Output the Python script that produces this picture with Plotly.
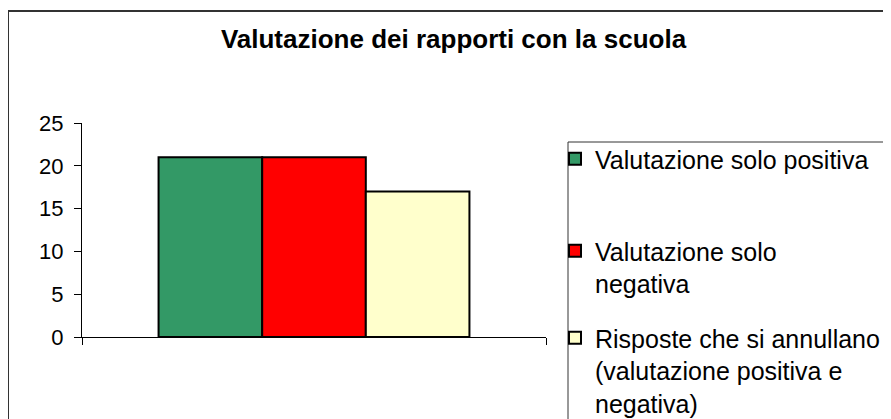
import plotly.graph_objects as go

# ---- data ----
category = ["Valutazione dei rapporti con la scuola"]
series_names = [
    "Valutazione solo positiva",
    "Valutazione solo<br>negativa",
    "Risposte che si annullano<br>(valutazione positiva e<br>negativa)",
]
series_values = [[21], [21], [17]]
series_colors = ["#339966", "#FF0000", "#FFFFCC"]
y_ticks = [0, 5, 10, 15, 20, 25]

# ---- layout geometry (reference-screen pixels) ----
OFF = 8  # default page body margin
W, H = 891 - OFF, 419 - OFF
PLOT_L, PLOT_R, PLOT_T, PLOT_B = 82, 546, 123, 337
ML = PLOT_L - OFF
MT = PLOT_T - OFF
PW = PLOT_R - PLOT_L
PH = PLOT_B - PLOT_T
MR = W - ML - PW
MB = H - MT - PH


def px_x(px):
    return (px - PLOT_L) / PW


def px_y(py):
    return (PLOT_B - py) / PH


FONT = "Liberation Sans, Arial, sans-serif"
LEG_FONT = 25
legend_ids = ["legend", "legend2", "legend3"]
legend_tops = [136, 228, 315]

fig = go.Figure()
for name, vals, col, lid in zip(series_names, series_values, series_colors, legend_ids):
    fig.add_trace(
        go.Bar(
            x=category,
            y=vals,
            name=name,
            marker=dict(color=col, line=dict(color="#000000", width=2)),
            legend=lid,
        )
    )

legend_common = dict(
    xanchor="left",
    yanchor="top",
    bgcolor="rgba(0,0,0,0)",
    borderwidth=0,
    font=dict(family=FONT, size=LEG_FONT, color="#000000"),
    valign="top",
)

layout_legends = {}
for lid, top in zip(legend_ids, legend_tops):
    layout_legends[lid] = dict(x=px_x(555), y=px_y(top), **legend_common)

fig.update_layout(
    width=W,
    height=H,
    autosize=False,
    margin=dict(l=ML, r=MR, t=MT, b=MB, pad=0, autoexpand=False),
    paper_bgcolor="white",
    plot_bgcolor="white",
    barmode="group",
    bargap=0.33,
    bargroupgap=0,
    font=dict(family=FONT, color="#000000", size=22),
    title=dict(
        text="<b>Valutazione dei rapporti con la scuola</b>",
        font=dict(family=FONT, size=26, color="#000000"),
        x=(453.5 - OFF) / W,
        xanchor="center",
        xref="container",
        y=1 - (39 - OFF) / H,
        yanchor="middle",
        yref="container",
    ),
    showlegend=True,
    xaxis=dict(
        showticklabels=False,
        showline=True,
        linecolor="#000000",
        linewidth=1,
        ticks="outside",
        tickson="boundaries",
        ticklen=7,
        tickcolor="#000000",
        showgrid=False,
        zeroline=False,
        automargin=False,
    ),
    yaxis=dict(
        range=[0, 25],
        tickvals=y_ticks,
        ticktext=[str(v) for v in y_ticks],
        showline=True,
        linecolor="#000000",
        linewidth=1,
        ticks="outside",
        ticklen=7,
        tickcolor="#000000",
        showgrid=False,
        zeroline=False,
        automargin=False,
        tickfont=dict(family=FONT, size=22, color="#000000"),
        ticklabelstandoff=6,
    ),
    shapes=[
        dict(
            type="rect",
            xref="paper",
            yref="paper",
            x0=px_x(8),
            x1=px_x(900),
            y0=px_y(430),
            y1=px_y(11),
            line=dict(color="#333333", width=2),
            fillcolor="rgba(0,0,0,0)",
            layer="below",
        ),
        dict(
            type="rect",
            xref="paper",
            yref="paper",
            x0=px_x(568),
            x1=px_x(884),
            y0=px_y(430),
            y1=px_y(142),
            line=dict(color="#333333", width=1),
            fillcolor="rgba(0,0,0,0)",
            layer="below",
        ),
    ],
    **layout_legends,
)

fig.write_html("out.html")
